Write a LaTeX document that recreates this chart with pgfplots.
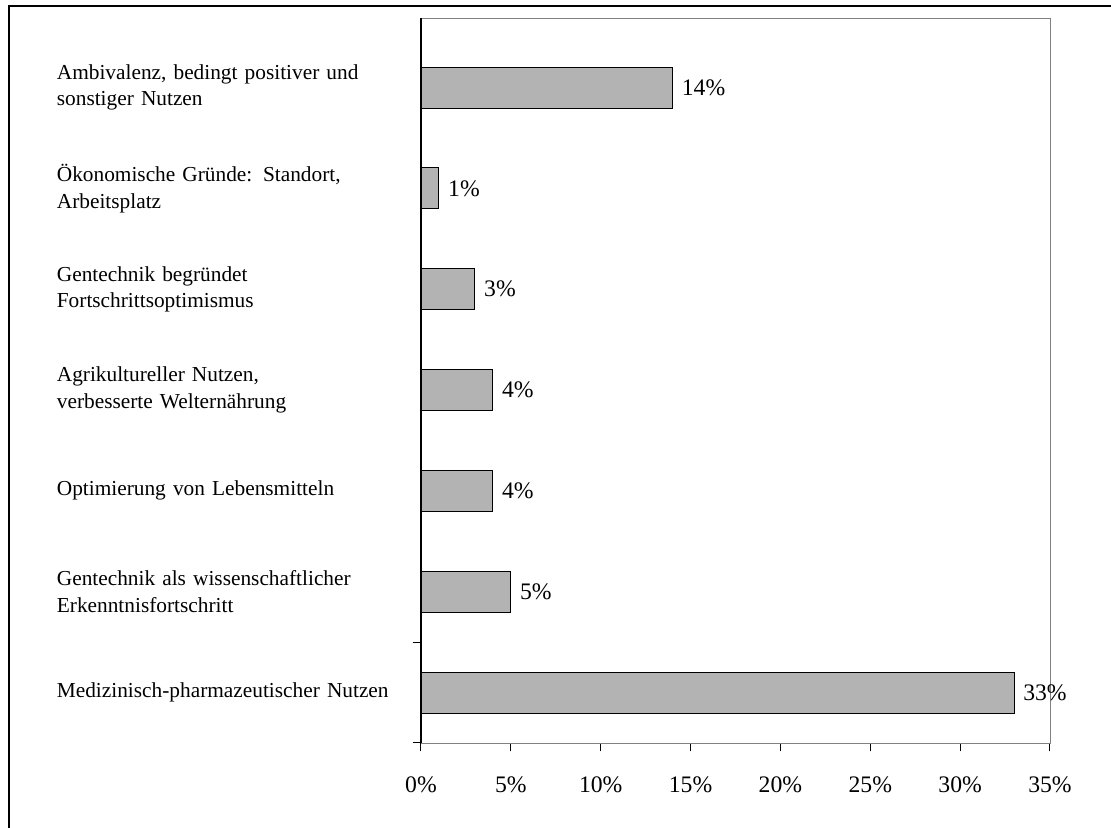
\documentclass[border=0pt]{standalone}
\usepackage{pgfplots}
\pgfplotsset{compat=1.18}
\usetikzlibrary{calc}
\usepackage{fontspec}
\setmainfont{Liberation Serif}
\definecolor{barfill}{RGB}{179,179,179}
\begin{document}
\fontsize{12.8}{16}\selectfont
\begin{tikzpicture}
\begin{axis}[scale only axis,
  width=377.4pt, height=435pt,
  xbar, bar width=24.6pt,
  xmin=0, xmax=35, ymin=-0.5, ymax=6.69,
  axis line style={draw=gray},
  xtick pos=bottom, ytick pos=left,
  tick align=outside, major tick length=5pt,
  tick style={black, line width=0.6pt},
  xtick={0,5,...,35},
  /pgf/number format/assume math mode=true,
  xticklabel={\pgfmathprintnumber{\tick}\%},
  xticklabel style={font=\fontsize{14.2}{17}\selectfont, yshift=-11pt},
  ytick={-0.5,0.5}, yticklabels={},
  extra y ticks={0,1,2,3,4,5,6},
  extra y tick labels={
    {Medizinisch-pharmazeutischer Nutzen},
    {Gentechnik als wissenschaftlicher\\Erkenntnisfortschritt},
    {Optimierung von Lebensmitteln},
    {Agrikultureller Nutzen,\\verbesserte Welternährung},
    {Gentechnik begründet\\Fortschrittsoptimismus},
    {Ökonomische Gründe: Standort,\\Arbeitsplatz},
    {Ambivalenz, bedingt positiver und\\sonstiger Nutzen}},
  extra y tick style={tick style={draw=none}},
  yticklabel style={font=\fontsize{12.8}{16}\selectfont, anchor=east, align=left, text width=209pt},
  point meta=x,
  nodes near coords={\pgfmathprintnumber{\pgfplotspointmeta}\%},
  nodes near coords style={font=\fontsize{14.2}{17}\selectfont, anchor=west, black, xshift=1pt},
  clip=false,
]
\addplot[fill=barfill, draw=black, line width=0.6pt] coordinates {
  (33,0) (5,1) (4,2) (4,3) (3,4) (1,5) (14,6)
};
\draw[black, line width=0.8pt] (axis cs:0,-0.5) -- (axis cs:0,6.69);
\coordinate (ll) at (axis cs:0,-0.5);
\end{axis}
\pgfresetboundingbox
\path[use as bounding box] ($(ll)+(-252.6pt,-51pt)$) rectangle ++(666.6pt,496.8pt);
\draw[line width=1.2pt] ($(ll)+(-247.2pt,-51pt)$) -- ($(ll)+(-247.2pt,442.2pt)$) -- ($(ll)+(414pt,442.2pt)$);
\end{tikzpicture}
\end{document}
